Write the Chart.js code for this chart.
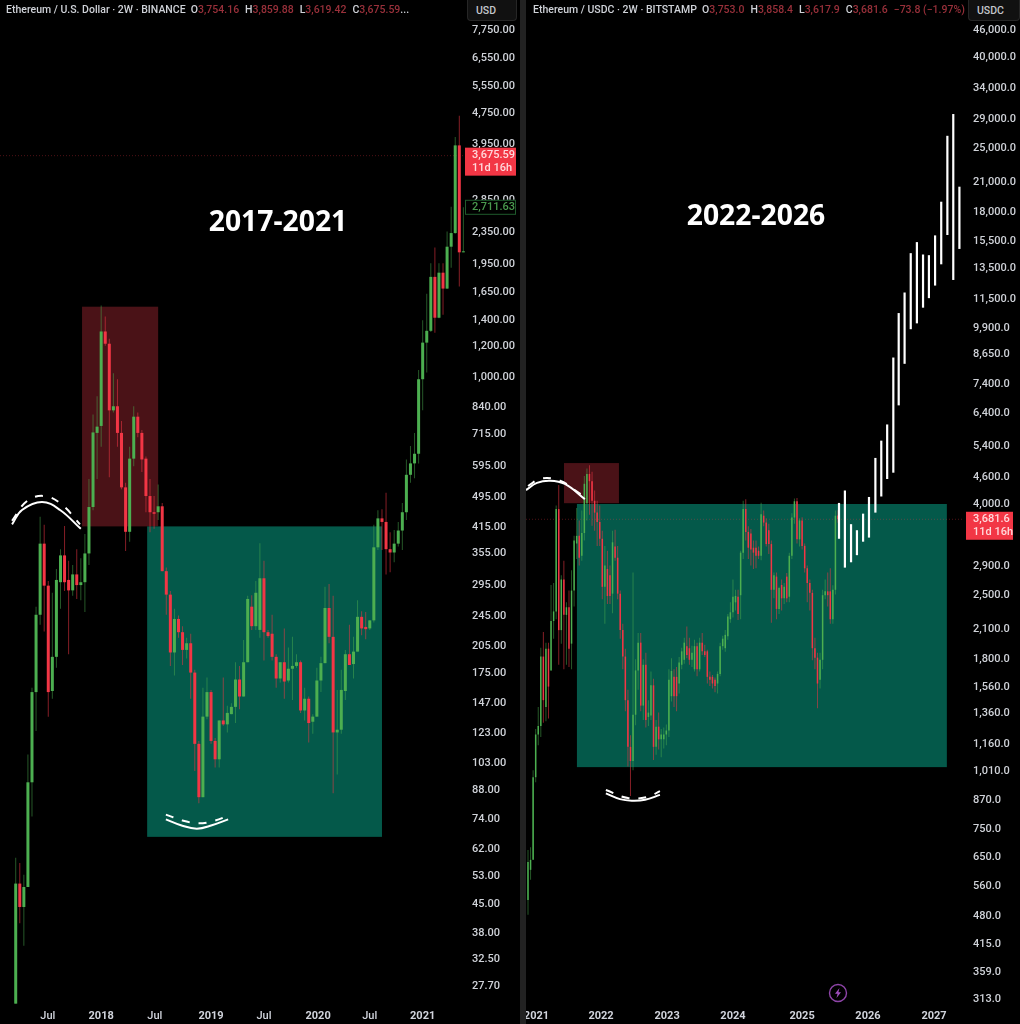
<!DOCTYPE html>
<html>
<head>
<meta charset="utf-8">
<title>ETH 2017-2021 vs 2022-2026</title>
<script src="https://cdn.jsdelivr.net/npm/chart.js@4"></script>
<style>
  html, body { margin: 0; background: #222; }
  body { position: relative; width: 1020px; height: 1024px; overflow: hidden; font-family: Roboto, sans-serif; }
  canvas { position: absolute; top: 0; background: #000; }
  #left-chart { left: 0; }
  #right-chart { left: 526px; }
  .legend { position: absolute; top: 3px; font-size: 10.5px; line-height: 13px; font-weight: 500; color: #cfd2d8; white-space: nowrap; }
  .legend b { font-weight: 500; color: #98303a; margin-right: 6px; }
  .legend b.end { margin-right: 0; }
  .title { position: absolute; font: 700 28.3px "Noto Sans", sans-serif; color: #fff; transform: translate(-50%, -50%); white-space: nowrap; }
  .unit { position: absolute; top: 0; height: 21px; line-height: 21px; padding-left: 8px; box-sizing: border-box;
          background: #111; border: 1px solid #262626; border-top: 0; border-radius: 0 0 4px 4px; color: #c4c7cc; font-size: 10.5px; font-weight: 500; }
  #bolt { position: absolute; left: 828px; top: 983px; }
</style>
</head>
<body>
<canvas id="left-chart" width="520" height="1024"></canvas>
<canvas id="right-chart" width="494" height="1024"></canvas>

<div class="legend" style="left:6px">Ethereum / U.S. Dollar · 2W · BINANCE &nbsp;O<b>3,754.16</b>H<b>3,859.88</b>L<b>3,619.42</b>C<b class="end">3,675.59</b>...</div>
<div class="legend" style="left:533px">Ethereum / USDC · 2W · BITSTAMP &nbsp;O<b>3,753.0</b>H<b>3,858.4</b>L<b>3,617.9</b>C<b>3,681.6</b><b class="end">−73.8 (−1.97%)</b></div>
<div class="title" style="left:278px;top:220px">2017-2021</div>
<div class="title" style="left:756px;top:214px">2022-2026</div>
<div class="unit" style="left:467px;width:50px">USD</div>
<div class="unit" style="left:968px;width:52px">USDC</div>
<svg id="bolt" width="20" height="20" viewBox="0 0 20 20">
  <circle cx="10" cy="10" r="8.5" fill="none" stroke="#8e44a8" stroke-width="1.4"/>
  <path d="M11.5 5 L7 10.8 H9.6 L8.5 15 L13 9.2 H10.4 Z" fill="#a24fc0"/>
</svg>

<script>
/* Two 2W ETH candle charts side by side, log price axes.
   Bodies and wicks are floating bars, so everything goes through the scales. */

// left panel: ETH/USD 2017-2021
const ethOpen = [24.9,50.5,44,49.5,91.7,156,246,374,292,157,
  192,298,349,302,284,312,293,298,353,464,
  718,748,1305,1214,820,840,718,521,401,617,
  790,718,617,495,450,450,466,318,277,197,
  240,222,200,208,175,115,84,135,156,117,
  105,132,129,137,143,168,152,186,258,230,
  225,305,222,220,192,169,186,167,179,182,
  186,140,150,131,135,167,185,256,216,123,
  125,157,195,184,198,243,229,227,238,366,
  434,425,362,355,374,404,450,561,600,635,
  985,1222,1310,1800,1415,1845,1680,2150,2330,3905,2080];
const ethHigh = [58.8,57,53.2,108,160,258,438,418,300,280,
  322,362,415,338,330,362,343,396,547,800,
  891,1520,1425,1250,1020,985,770,535,662,840,
  810,730,625,547,495,530,475,325,283,255,
  245,230,215,220,178,117,160,170,158,119,
  132,170,144,146,186,182,212,275,276,300,
  375,338,225,246,195,186,227,203,216,195,
  188,160,152,137,180,192,290,295,275,158,
  178,200,232,216,268,251,250,238,418,455,
  458,505,400,405,425,475,614,665,718,1040,
  1395,1630,1950,2140,1950,1950,2350,2720,4100,4650,2711];
const ethLow = [24.9,40,35,49.5,75,124,232,223,135,150,
  180,255,283,195,275,270,268,250,330,455,
  547,662,1200,553,810,662,515,358,378,590,
  700,570,450,400,408,430,318,246,182,172,
  215,183,190,150,98,81,84,133,115,100,
  100,128,123,137,130,141,152,186,225,225,
  215,188,215,188,160,165,150,165,149,180,
  138,132,116,122,135,156,185,208,86,96,
  122,149,183,169,198,218,213,225,235,360,
  360,312,316,335,368,360,430,535,550,600,
  820,1025,1300,1295,1410,1440,1675,1900,2320,1700,2080];
const ethClose = [50.5,44,49.5,91.7,156,246,374,292,156,192,
  302,349,298,284,312,293,298,353,464,720,
  745,1305,1214,820,840,718,521,401,617,790,
  718,614,495,450,446,466,318,277,197,240,
  222,200,208,175,115,84,135,156,117,105,
  132,129,138,143,168,152,186,270,230,280,
  305,222,217,192,169,186,166,179,182,186,
  140,150,130,135,167,185,256,216,123,125,
  158,195,183,198,243,227,226,238,366,434,
  425,362,355,374,404,450,561,600,635,985,
  1222,1310,1800,1415,1845,1680,2150,2330,3905,2080,2090];

// right panel: ETH/USDC 2021-2025, then the hand-drawn white projection
const usdcOpen = [518,605,637,975,1215,1270,1815,1400,1890,1690,
  2180,2290,3880,2080,2700,2250,2340,1940,2550,3250,
  3380,3050,3430,4000,4650,4480,4050,3810,3630,3330,
  2600,2850,2760,2510,3200,3020,2510,2080,1815,1450,
  1140,1060,1345,1690,1950,1410,1740,1330,1340,1565,
  1140,1265,1185,1185,1215,1240,1480,1635,1635,1580,
  1740,1785,1915,1895,1785,1700,1915,1700,1950,1865,
  1865,1635,1635,1610,1580,1660,1915,1895,2015,2200,
  2280,2400,2470,2490,3100,3880,3450,3420,3180,3180,
  3130,3050,3750,3620,3480,3240,2560,2740,2320,2625,
  2450,2740,2470,3050,3715,4040,3320,3660,3210,2860,
  2650,2520,1895,1805,1610,1785,2490,2540,2540,2200,2560,3753];
const usdcHigh = [670,680,1010,1250,1400,1900,2060,1950,1950,2625,
  2650,3950,4390,2760,2975,2400,2550,2830,3380,3900,
  3660,3850,4600,4780,4860,4700,4270,4050,3950,3470,
  3210,3130,2900,3470,3490,3210,2550,2150,1890,1530,
  1210,2800,1790,2050,2050,1790,1850,1450,1680,1620,
  1310,1360,1250,1260,1280,1700,1800,1700,1720,1810,
  1900,2000,2120,2000,1920,1980,1950,2000,2050,1930,
  1880,1680,1650,1630,1680,1950,2020,2080,2260,2400,
  2700,2560,2560,3130,4050,4080,3550,3500,3300,3300,
  3200,4010,3850,3700,3600,3300,2800,2800,2600,2700,
  2650,2790,3100,3800,4100,4110,3700,3720,3250,2900,
  2700,2560,2000,1850,1850,2560,2700,2800,2860,2620,3850,3858];
const usdcLow = [480,575,637,950,1150,1200,1290,1300,1320,1690,
  1990,2200,1740,1940,1700,1740,1720,1700,2350,3000,
  2900,2975,3300,3660,3770,3560,3470,3210,3210,2440,
  2150,2380,2380,2270,2975,2440,1990,1700,1370,1030,
  885,1010,1275,1530,1370,1310,1260,1270,1310,1065,
  1095,1125,1080,1130,1150,1200,1440,1400,1370,1500,
  1700,1750,1800,1740,1720,1680,1640,1680,1830,1810,
  1580,1560,1540,1510,1500,1640,1880,1860,1980,2160,
  2220,2300,2190,2200,3000,3300,3000,2900,2850,2860,
  3000,2980,3550,3200,3080,2160,2450,2200,2260,2300,
  2380,2400,2400,3000,3600,3250,3200,3150,2800,2400,
  2300,1780,1700,1390,1540,1700,2440,2350,2150,2150,2500,3618];
const usdcClose = [630,637,975,1215,1270,1815,1450,1890,1555,2180,
  2290,3880,2080,2700,2250,2340,1890,2550,3300,3380,
  3020,3430,4420,4650,4480,4050,3810,3630,3330,2600,
  2900,2480,2480,3270,3020,2510,2080,1815,1450,1140,
  1060,1345,1690,1950,1410,1740,1310,1360,1565,1140,
  1265,1185,1215,1215,1240,1610,1685,1480,1480,1760,
  1865,1950,1830,1785,1850,1915,1700,1950,1865,1830,
  1635,1610,1580,1560,1660,1915,1990,2030,2230,2280,
  2470,2480,2260,3100,3880,3450,3180,3150,3100,3050,
  3050,3780,3620,3240,3240,2560,2760,2320,2585,2450,
  2600,2450,3050,3715,4040,3320,3660,3210,2860,2650,
  2520,1895,1805,1580,1785,2490,2540,2490,2200,2560,3750,3681];

const projX = [121.4,123.7,126.1,128.4,130.8,133.1,135.6,137.9,140.2,142.6,
  144.7,147,149.4,151.8,154.2,156.5,158.9,161.3,163.7,166,168.4];
const projTop = [4005,4270,3590,3480,3790,4130,5050,5520,6000,8470,
  10650,11840,14500,15350,14400,14350,15890,18900,26540,29690,20420];
const projBottom = [3330,2870,2950,3060,3280,3350,3810,4140,4530,4680,
  6620,8200,9800,10100,10950,11500,12270,13690,15920,12630,14820];

// axes
const leftTicks = [7750,6550,5550,4750,3950,2850,2350,1950,1650,1400,1200,1000,840,715,595,495,415,355,295,245,205,175,147,123,103,88,74,62,53,45,38,32.5,27.7];
const rightTicks = [46000,40000,34000,29000,25000,21000,18000,15500,13500,11500,9900,8650,7400,6400,5400,4600,4000,2900,2500,2100,1800,1560,1360,1160,1010,870,750,650,560,480,415,359,313];
const leftDateTicks = [7.9,21,34.2,48,61,74.3,87,100];
const leftDateLabels = ["Jul","2018","Jul","2019","Jul","2020","Jul","2021"];
const rightDateTicks = [3.3,28.5,54.3,80,107,132.7,158.5];
const rightDateLabels = ["2021","2022","2023","2024","2025","2026","2027"];

// shaded zones: candle index range, price range
const leftZones = [
  { x: [16.3, 35], y: [414, 1510], color: "#4a1217" },
  { x: [32.3, 90], y: [66.5, 414], color: "#04594a" },
];
const rightZones = [
  { x: [14.05, 35.5], y: [4000, 4918], color: "#4a1217" },
  { x: [19.1, 163.5], y: [1027, 3983], color: "#04594a" },
];

// the hand-drawn arcs, [candle index, price]
const leftArcs = [
  { pts: [[-0.9,419],[1.55,456],[6.46,478],[10.9,456],[16,408]] },
  { pts: [[-0.9,428],[2.8,481],[7.2,495],[11.4,470],[15.8,419]], dash: true },
  { pts: [[36.9,73.7],[40.6,71.2],[44.5,69.8],[48.2,71.2],[52.2,73.7]] },
  { pts: [[36.9,75.8],[41,73.2],[45,72],[49,73.2],[52.2,75.3]], dash: true },
];
const rightArcs = [
  { pts: [[-0.78,4280],[3.5,4440],[8.6,4490],[14.4,4416],[22.2,4085]] },
  { pts: [[0,4370],[5.1,4540],[12.5,4490],[19.1,4245],[22.2,4130]], dash: true },
  { pts: [[30.4,897],[35.9,871],[40.5,864],[45.7,868],[51.5,890]] },
  { pts: [[30.4,913],[39,876],[46.8,881],[51.5,908]], dash: true },
];

const GREEN = "#4caf50";
const RED = "#f23645";
const GREEN_WICK = "rgba(76,175,80,.5)";
const RED_WICK = "rgba(242,54,69,.55)";

function candleSets(open, high, low, close, bodyWidth) {
  const up = open.map((o, i) => close[i] >= o);
  return [
    {
      label: "wicks", stack: "c", order: 4, barThickness: 1, inflateAmount: 0,
      data: open.map((_, i) => ({ x: i, y: [low[i], high[i]] })),
      backgroundColor: up.map(u => (u ? GREEN_WICK : RED_WICK)),
    },
    {
      label: "bodies", stack: "c", order: 3, barThickness: bodyWidth, inflateAmount: 0, minBarLength: 1,
      data: open.map((o, i) => ({ x: i, y: [o, close[i]] })),
      backgroundColor: up.map(u => (u ? GREEN : RED)),
    },
  ];
}

function arcSets(arcs) {
  return arcs.map(a => ({
    type: "line", label: "arc", order: 0, tension: 0.4, pointRadius: 0,
    borderColor: "#fff", borderWidth: 2,
    borderDash: a.dash ? [8, 9] : [],
    data: a.pts.map(p => ({ x: p[0], y: p[1] })),
  }));
}

function priceLine(price, xMin, xMax) {
  return {
    type: "line", label: "last", order: 5, pointRadius: 0, borderWidth: 1,
    borderColor: "rgba(242,54,69,.32)", borderDash: [1, 2],
    data: [{ x: xMin, y: price }, { x: xMax, y: price }],
  };
}

const zonesPlugin = {
  id: "zones",
  beforeDatasetsDraw(chart, args, opts) {
    const { ctx, scales: { x, y } } = chart;
    for (const z of opts.list) {
      const x0 = x.getPixelForValue(z.x[0]);
      const x1 = x.getPixelForValue(z.x[1]);
      const y0 = y.getPixelForValue(z.y[1]);
      const y1 = y.getPixelForValue(z.y[0]);
      ctx.fillStyle = z.color;
      ctx.fillRect(x0, y0, x1 - x0, y1 - y0);
    }
  },
};

// price tags sitting on the axis
const tagsPlugin = {
  id: "tags",
  afterDraw(chart, args, opts) {
    const { ctx, scales: { y }, chartArea } = chart;
    for (const t of opts.list) {
      const cy = y.getPixelForValue(t.price);
      const left = chartArea.right + t.dx;
      const top = cy - t.up;
      ctx.save();
      ctx.textBaseline = "middle";
      ctx.font = "500 11px Roboto";
      if (t.outline) {
        ctx.fillStyle = "#000";
        ctx.fillRect(left, top, t.w, t.h);
        ctx.strokeStyle = "#1f5a2c";
        ctx.strokeRect(left + 0.5, top + 0.5, t.w - 1, t.h - 1);
        ctx.fillStyle = "#4a9a4e";
      } else {
        ctx.fillStyle = RED;
        ctx.fillRect(left, top, t.w, t.h);
        ctx.fillStyle = "#ffd9dc";
      }
      ctx.fillText(t.lines[0], left + t.tx, top + (t.outline ? t.h / 2 : 7.5));
      if (t.lines[1]) ctx.fillText(t.lines[1], left + t.tx, top + 20.5);
      ctx.restore();
    }
  },
};

function makeChart(id, cfg) {
  return new Chart(document.getElementById(id), {
    type: "bar",
    data: { datasets: cfg.datasets },
    options: {
      responsive: false,
      animation: false,
      layout: { autoPadding: false, padding: 0 },
      plugins: {
        legend: { display: false },
        tooltip: { enabled: false },
        zones: { list: cfg.zones },
        tags: { list: cfg.tags },
      },
      scales: {
        x: {
          type: "linear", offset: false, min: cfg.xMin, max: cfg.xMax,
          grid: { display: false, drawTicks: false }, border: { display: false },
          afterBuildTicks(s) { s.ticks = cfg.dateTicks.map(v => ({ value: v })); },
          afterFit(s) { s.height = 19; s.paddingLeft = 0; s.paddingRight = 0; },
          ticks: {
            autoSkip: false, maxRotation: 0, padding: 5, color: "#d1d4dc",
            font: c => ({ family: "Roboto", size: 11, weight: cfg.dateLabels[c.index] === "Jul" ? "500" : "700" }),
            callback: (v, i) => cfg.dateLabels[i],
          },
        },
        y: {
          type: "logarithmic", position: "right", stacked: false, bounds: "data",
          min: cfg.yMin, max: cfg.yMax,
          grid: { display: false, drawTicks: false }, border: { display: false },
          afterBuildTicks(s) { s.ticks = cfg.priceTicks.map(v => ({ value: v })); },
          afterFit(s) { s.width = cfg.axisWidth; s.paddingTop = 0; s.paddingBottom = 0; },
          ticks: {
            autoSkip: false, padding: cfg.tickPad, labelOffset: 1, color: "#cfd2d8",
            font: { family: "Roboto", size: 11, weight: "500" },
            callback: v => v.toLocaleString("en-US", { minimumFractionDigits: cfg.decimals, maximumFractionDigits: cfg.decimals }),
          },
        },
      },
    },
    plugins: [zonesPlugin, tagsPlugin],
  });
}

makeChart("left-chart", {
  xMin: -3.86, xMax: 110.4, yMin: 24.7, yMax: 9194,
  axisWidth: 55, tickPad: 7, decimals: 2,
  priceTicks: leftTicks, dateTicks: leftDateTicks, dateLabels: leftDateLabels,
  zones: leftZones,
  tags: [
    { price: 3675.59, lines: ["3,675.59", "11d 16h"], dx: 0, w: 51, h: 28, up: 8, tx: 7 },
    { price: 2711.63, lines: ["2,711.63"], outline: true, dx: 0, w: 51, h: 15, up: 7.5, tx: 7 },
  ],
  datasets: [
    priceLine(3675.59, -3.86, 110.4),
    ...candleSets(ethOpen, ethHigh, ethLow, ethClose, 3),
    ...arcSets(leftArcs),
  ],
});

makeChart("right-chart", {
  xMin: -0.78, xMax: 169.8, yMin: 301.6, yMax: 53420,
  axisWidth: 57, tickPad: 10, decimals: 1,
  priceTicks: rightTicks, dateTicks: rightDateTicks, dateLabels: rightDateLabels,
  zones: rightZones,
  tags: [
    { price: 3681.6, lines: ["3,681.6", "11d 16h"], dx: 3, w: 47, h: 28, up: 7.5, tx: 7 },
  ],
  datasets: [
    priceLine(3681.6, -0.78, 169.8),
    ...candleSets(usdcOpen, usdcHigh, usdcLow, usdcClose, 1.5),
    {
      label: "projection", stack: "c", order: 1, barThickness: 2.2, inflateAmount: 0,
      data: projX.map((x, i) => ({ x, y: [projBottom[i], projTop[i]] })),
      backgroundColor: "#fff",
    },
    ...arcSets(rightArcs),
  ],
});
</script>
</body>
</html>
